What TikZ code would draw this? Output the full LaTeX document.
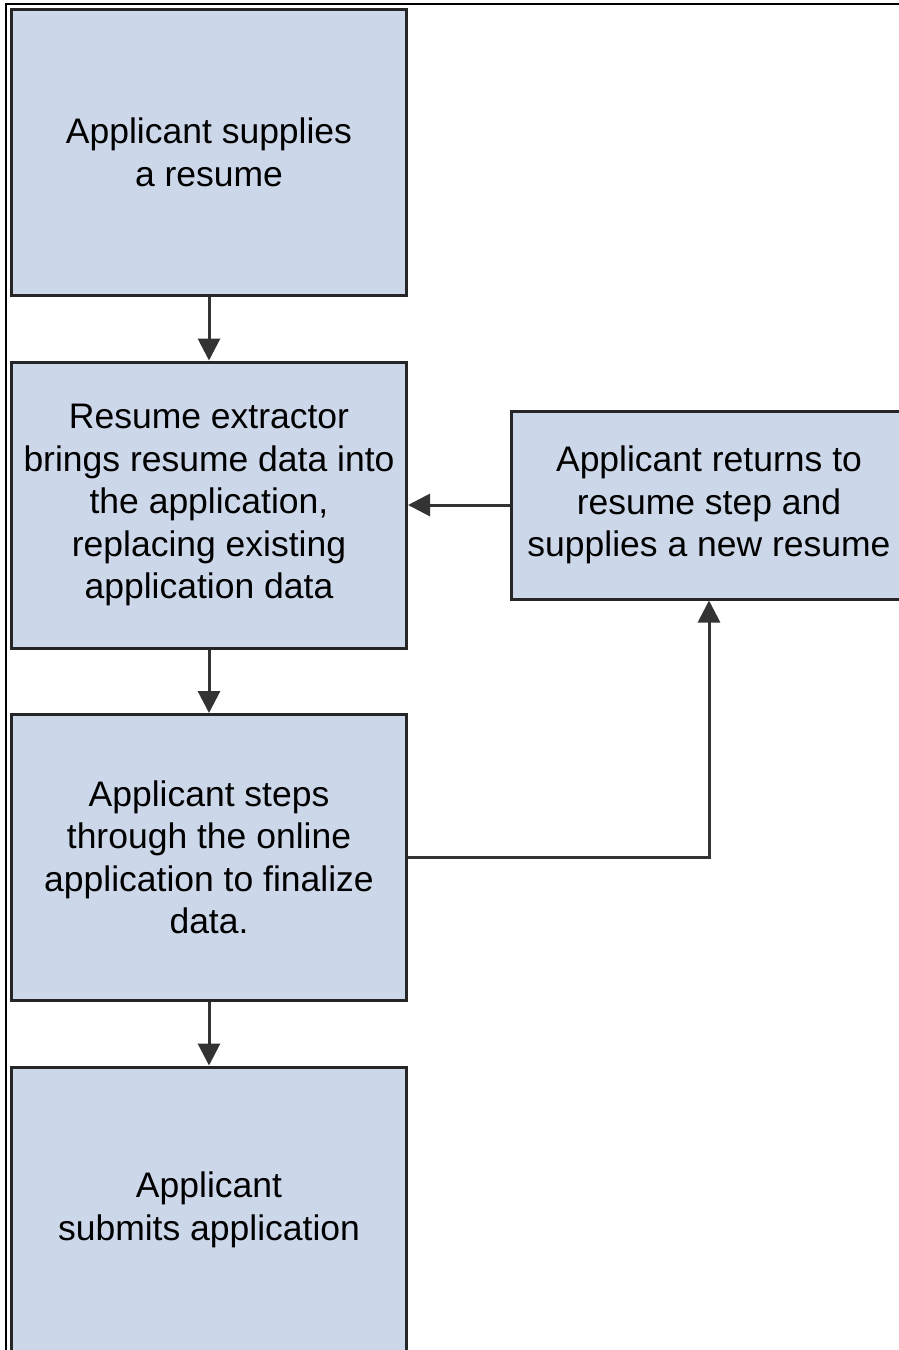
\documentclass[tikz,border=0pt]{standalone}
\usepackage{fontspec}
\setmainfont{Liberation Sans}
\usetikzlibrary{positioning, arrows.meta}
\definecolor{boxblue}{RGB}{204,216,234}
\definecolor{linegray}{RGB}{51,51,51}

\begin{document}
\begin{tikzpicture}[
	node distance = 63.5pt and 102pt,
	>={Triangle[length=22pt,width=22pt]},
	box/.style = {rectangle, draw=black!85, line width=3pt, fill=boxblue,
		minimum width=395pt, minimum height=#1, align=center,
		font=\fontsize{35.5}{42.5}\selectfont},
	box/.default = 286pt,
	flow/.style = {->, draw=linegray, line width=3pt}
	]
	\useasboundingbox (0,0) rectangle (899pt,-1350pt);
	\clip (0,0) rectangle (899pt,-1350pt);
	\draw[line width=1.5pt] (6pt,-1350pt) -- (6pt,-4pt) -- (899pt,-4pt);
	
	\node (supply) [box] at (209pt,-152.5pt) {Applicant supplies\\ a resume};
	\node (extract) [box,below=of supply] {Resume extractor\\ brings resume data into\\ the application,\\ replacing existing\\ application data};
	\node (steps) [box,below=of extract] {Applicant steps\\ through the online\\ application to finalize\\ data.};
	\node (submit) [box,below=of steps] {Applicant\\ submits application};
	\node (return) [box=188pt,right=of extract] {Applicant returns to\\ resume step and\\ supplies a new resume};
	%
	\draw[flow] (supply) -- (extract);
	\draw[flow] (extract) -- (steps);
	\draw[flow] (steps) -- (submit);
	\draw[flow] (return) -- (extract);
	\draw[flow] (steps.east) -| (return.south);
\end{tikzpicture}
\end{document}
